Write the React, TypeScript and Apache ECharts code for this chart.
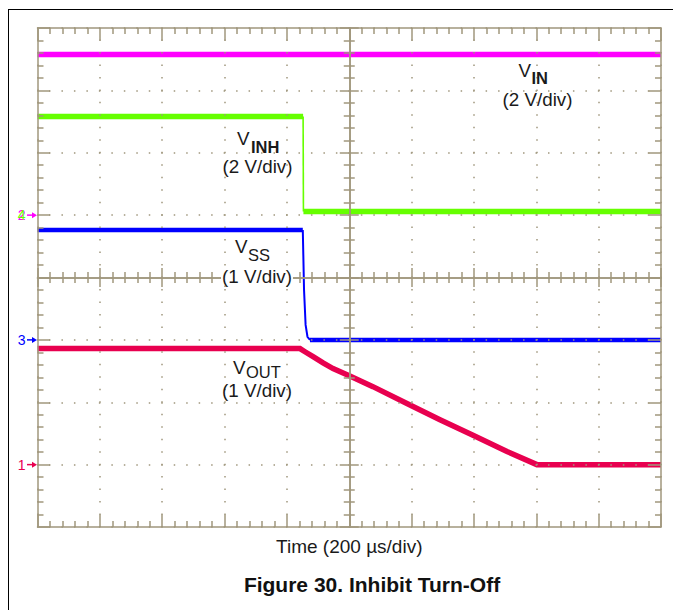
import React, { useEffect, useRef } from "react";
import * as echarts from "echarts";

const W = 673;
const H = 610;
const FONT = '"Liberation Sans", Arial, Helvetica, sans-serif';
const GC = "#a0977d"; // graticule colour

// ---- Time base: 200 µs/div, 10 divisions ----
const timeRange = [0, 2000];
const divX = [-5, 5];
const divY = [-4, 4];

// ---- Channel volt ranges over the 8 vertical divisions ----
const ch1Range = [-1, 7]; // VOUT, 1 V/div
const ch3Range = [-3, 5]; // VSS, 1 V/div
const ch24Range = [-10, 6]; // VIN / VINH, 2 V/div

// ---- Channel 2: VIN ----
const vinTime = [0, 2000];
const vinVolt = [5.15, 5.15];

// ---- Channel 4: VINH ----
const vinhTime = [0, 852, 853, 2000];
const vinhVolt = [3.16, 3.16, 0.12, 0.12];
const vinhEdge = [1, 2];

// ---- Channel 3: VSS ----
const vssTime = [0, 851, 855, 860, 866, 874, 2000];
const vssVolt = [1.76, 1.76, 0.8, 0.24, 0.05, 0, 0];
const vssEdge = [1, 5];

// ---- Channel 1: VOUT ----
const voutTime = [0, 842, 858, 884, 916, 948, 1002, 1076, 1185, 1291, 1397, 1506, 1602, 2000];
const voutVolt = [1.86, 1.86, 1.81, 1.73, 1.63, 1.54, 1.42, 1.25, 0.98, 0.72, 0.47, 0.21, 0.0, 0.0];

// ---- Texts ----
const xAxisName = "Time (200 µs/div)";
const figureTitle = "Figure 30. Inhibit Turn-Off";
const labelMain = ["V", "V", "V", "V"];
const labelSub = ["IN", "INH", "SS", "OUT"];
const labelScale = ["(2 V/div)", "(2 V/div)", "(1 V/div)", "(1 V/div)"];
const markerLabels = ["1", "2", "3", "4"];

const C_VIN = "#ff00ff";
const C_VINH = "#66ff00";
const C_VSS = "#0000ff";
const C_VOUT = "#e8004f";

function traceSeries(
  name: string,
  t: number[],
  v: number[],
  yAxisIndex: number,
  color: string,
  width: number,
  edge?: number[],
  edgeWidth = 1.6
) {
  const pts = t.map((x, i) => [x, v[i]]);
  const mk = (data: number[][], w: number, suffix: string) => ({
    type: "line",
    id: name + suffix,
    name,
    xAxisIndex: 4,
    yAxisIndex,
    data,
    symbol: "none",
    silent: true,
    z: 2,
    lineStyle: { color, width: w, cap: "butt", join: "miter" },
  });
  if (!edge) return [mk(pts, width, "")];
  return [
    mk(pts.slice(0, edge[0] + 1), width, "-a"),
    mk(pts.slice(edge[0], edge[1] + 1), edgeWidth, "-edge"),
    mk(pts.slice(edge[1]), width, "-b"),
  ];
}

const borderLine = { show: true, onZero: false, lineStyle: { color: GC, width: 1.5 } };
const tickStyle = { color: GC, width: 1.5 };
const dotted = { color: GC, width: 1.5, type: [1.5, 10.975], dashOffset: 0.75 };

function gratX(extra: any) {
  return {
    type: "value",
    min: divX[0],
    max: divX[1],
    interval: 1,
    z: 5,
    axisLabel: { show: false },
    splitLine: { show: false },
    minorSplitLine: { show: false },
    ...extra,
  };
}
function gratY(extra: any) {
  return {
    type: "value",
    min: divY[0],
    max: divY[1],
    interval: 1,
    z: 5,
    axisLabel: { show: false },
    splitLine: { show: false },
    minorSplitLine: { show: false },
    ...extra,
  };
}

export default function App() {
  const ref = useRef<HTMLDivElement>(null);
  useEffect(() => {
    if (!ref.current) return;
    const chart = echarts.init(ref.current, undefined, { renderer: "svg", width: W, height: H });
    chart.setOption({
      animation: false,
      backgroundColor: "#ffffff",
      grid: { left: 37.5, top: 28, width: 623.5, height: 499, outerBoundsMode: "none", containLabel: false },
      xAxis: [
        gratX({
          position: "bottom",
          axisLine: borderLine,
          axisTick: { show: true, inside: true, length: 12.5, lineStyle: tickStyle },
          minorTick: { show: true, splitNumber: 5, length: 6, lineStyle: tickStyle },
          splitLine: { show: true, lineStyle: dotted },
          name: xAxisName,
          nameLocation: "middle",
          nameGap: 10,
          nameTextStyle: { fontSize: 19, color: "#1a1a1a", fontFamily: FONT },
        }),
        gratX({
          position: "top",
          axisLine: borderLine,
          axisTick: { show: true, inside: true, length: 12.5, lineStyle: tickStyle },
          minorTick: { show: true, splitNumber: 5, length: 6, lineStyle: tickStyle },
        }),
        gratX({
          position: "bottom",
          axisLine: { show: true, onZero: true, onZeroAxisIndex: 0, lineStyle: { color: GC, width: 1.5 } },
          axisTick: { show: true, inside: false, length: 9.5, lineStyle: tickStyle },
          minorTick: { show: true, splitNumber: 5, length: 5.5, lineStyle: tickStyle },
        }),
        gratX({
          position: "bottom",
          axisLine: { show: true, onZero: true, onZeroAxisIndex: 0, lineStyle: { color: GC, width: 1.5 } },
          axisTick: { show: true, inside: true, length: 9.5, lineStyle: tickStyle },
          minorTick: { show: true, splitNumber: 5, length: 5.5, lineStyle: tickStyle },
        }),
        { type: "value", min: timeRange[0], max: timeRange[1], show: false, axisLine: { onZero: false } },
      ],
      yAxis: [
        gratY({
          position: "left",
          axisLine: borderLine,
          axisTick: { show: true, inside: true, length: 12.5, lineStyle: tickStyle },
          minorTick: { show: true, splitNumber: 5, length: 6, lineStyle: tickStyle },
          splitLine: { show: true, lineStyle: dotted },
        }),
        gratY({
          position: "right",
          axisLine: borderLine,
          axisTick: { show: true, inside: true, length: 12.5, lineStyle: tickStyle },
          minorTick: { show: true, splitNumber: 5, length: 6, lineStyle: tickStyle },
        }),
        gratY({
          position: "left",
          axisLine: { show: true, onZero: true, onZeroAxisIndex: 0, lineStyle: { color: GC, width: 1.5 } },
          axisTick: { show: true, inside: false, length: 9.5, lineStyle: tickStyle },
          minorTick: { show: true, splitNumber: 5, length: 5.5, lineStyle: tickStyle },
        }),
        gratY({
          position: "left",
          axisLine: { show: true, onZero: true, onZeroAxisIndex: 0, lineStyle: { color: GC, width: 1.5 } },
          axisTick: { show: true, inside: true, length: 9.5, lineStyle: tickStyle },
          minorTick: { show: true, splitNumber: 5, length: 5.5, lineStyle: tickStyle },
        }),
        { type: "value", min: ch1Range[0], max: ch1Range[1], show: false, axisLine: { onZero: false } },
        { type: "value", min: ch3Range[0], max: ch3Range[1], show: false, axisLine: { onZero: false } },
        { type: "value", min: ch24Range[0], max: ch24Range[1], show: false, axisLine: { onZero: false } },
      ],
      series: [
        ...traceSeries("VOUT", voutTime, voutVolt, 4, C_VOUT, 5.5),
        ...traceSeries("VSS", vssTime, vssVolt, 5, C_VSS, 4.5, vssEdge, 2),
        ...traceSeries("VINH", vinhTime, vinhVolt, 6, C_VINH, 5.5, vinhEdge, 1.6),
        ...traceSeries("VIN", vinTime, vinVolt, 6, C_VIN, 5.5),
      ],
    });

    // channel ground markers from the channel scales
    const yCh1 = chart.convertToPixel({ yAxisIndex: 4 } as any, 0) as unknown as number;
    const yCh3 = chart.convertToPixel({ yAxisIndex: 5 } as any, 0) as unknown as number;
    const yCh24 = chart.convertToPixel({ yAxisIndex: 6 } as any, 0) as unknown as number;

    const marker = (label: string, y: number, color: string, arrow: boolean) => {
      const els: any[] = [
        {
          type: "text",
          x: 25.5,
          y,
          style: { text: label, fill: color, fontSize: 14, fontFamily: FONT, align: "right", verticalAlign: "middle" },
        },
      ];
      if (arrow) {
        els.push(
          { type: "line", shape: { x1: 27, y1: y, x2: 33, y2: y }, style: { stroke: color, lineWidth: 1.5 } },
          { type: "polygon", shape: { points: [[32, y - 3], [37, y], [32, y + 3]] }, style: { fill: color } }
        );
      }
      return els;
    };

    const txt = (text: string, x: number, y: number, size: number, weight: string, align = "left", bg?: boolean) => ({
      type: "text",
      x,
      y,
      z: 10,
      style: {
        text,
        fill: "#1a1a1a",
        fontSize: size,
        fontWeight: weight,
        fontFamily: FONT,
        align,
        verticalAlign: "middle",
        ...(bg ? { backgroundColor: "#ffffff", padding: [0, 1] } : {}),
      },
    });

    const labelPos = [
      { vx: 518.5, vy: 70, sx: 531.5, sy: 77.5, cx: 537.5, cy: 99.5, bold: true, bg: false },
      { vx: 237, vy: 138.5, sx: 251, sy: 146.5, cx: 257.5, cy: 166.5, bold: true, bg: false },
      { vx: 235, vy: 246.5, sx: 248, sy: 254.5, cx: 257, cy: 276, bold: false, bg: true },
      { vx: 233, vy: 367, sx: 246, sy: 372, cx: 257, cy: 390.5, bold: false, bg: false },
    ];
    const labelEls: any[] = [];
    labelPos.forEach((p, i) => {
      labelEls.push(txt(labelMain[i], p.vx, p.vy, 18.8, "normal"));
      labelEls.push(txt(labelSub[i], p.sx, p.sy, 16.5, p.bold ? "bold" : "normal"));
      labelEls.push(txt(labelScale[i], p.cx, p.cy, 18.8, "normal", "center", p.bg));
    });

    chart.setOption({
      graphic: [
        { type: "line", shape: { x1: 8.5, y1: 9, x2: 8.5, y2: H }, style: { stroke: "#000", lineWidth: 1 } },
        { type: "line", shape: { x1: 8, y1: 9.5, x2: W, y2: 9.5 }, style: { stroke: "#000", lineWidth: 1 } },
        ...marker(markerLabels[1], yCh24, C_VIN, true),
        ...marker(markerLabels[3], yCh24, C_VINH, false),
        ...marker(markerLabels[2], yCh3, C_VSS, true),
        ...marker(markerLabels[0], yCh1, C_VOUT, true),
        ...labelEls,
        {
          type: "text",
          x: 372,
          y: 584,
          style: {
            text: figureTitle,
            fill: "#111",
            fontSize: 21,
            fontWeight: "bold",
            fontFamily: FONT,
            align: "center",
            verticalAlign: "middle",
          },
        },
      ],
    });
    return () => chart.dispose();
  }, []);
  return <div ref={ref} style={{ position: "fixed", left: 0, top: 0, width: W, height: H, background: "#fff" }} />;
}
